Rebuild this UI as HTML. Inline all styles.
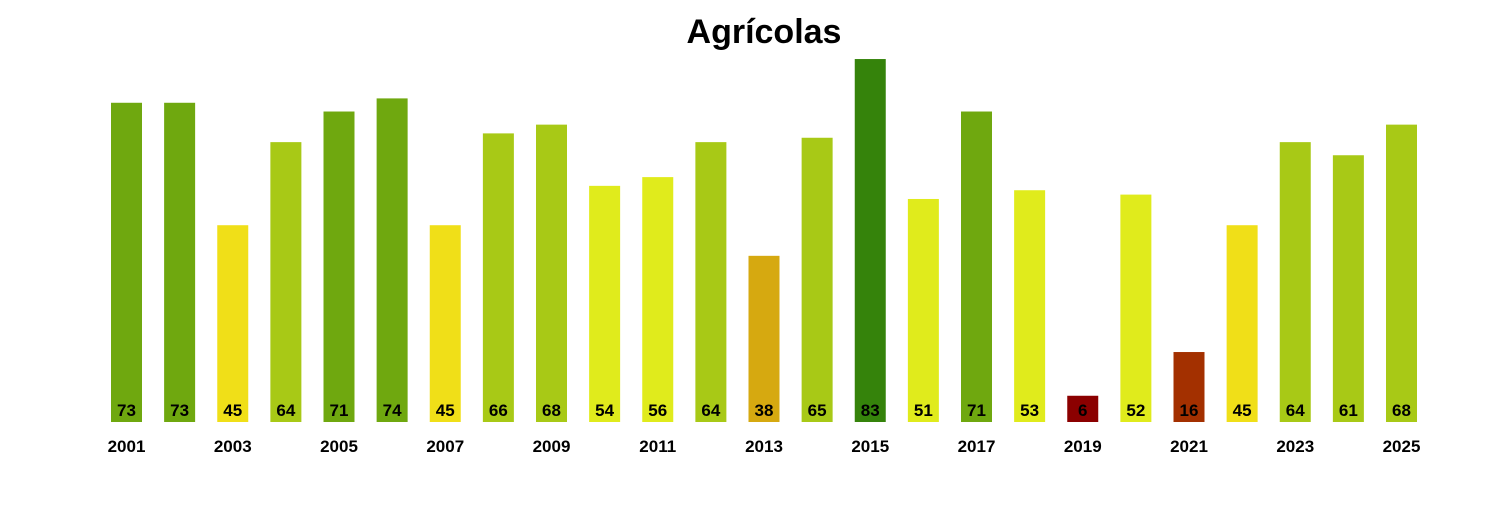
<!DOCTYPE html>
<html><head><meta charset="utf-8"><style>
body{margin:0;background:#fff;}
svg text{font-family:"Liberation Sans",Arial,sans-serif;font-weight:bold;}
</style></head><body>
<svg width="1500" height="500" xmlns="http://www.w3.org/2000/svg">
<rect width="1500" height="500" fill="#fff"/>
<text x="764" y="43" font-size="34" text-anchor="middle">Agrícolas</text>
<g id="bars"></g>
</svg>
<script>
var v=[73,73,45,64,71,74,45,66,68,54,56,64,38,65,83,51,71,53,6,52,16,45,64,61,68];
function col(x){if(x>=80)return"#35830b";if(x>=70)return"#6fa80f";if(x>=60)return"#a8c916";if(x>=50)return"#e0eb1c";if(x>=40)return"#f0df18";if(x>=30)return"#d6a910";if(x>=10)return"#a33000";return"#8b0000";}
var g=document.getElementById("bars"),s="";
for(var i=0;i<v.length;i++){var x=111+i*53.125,h=v[i]*4.373,y=422-h;
s+='<rect x="'+x+'" y="'+y+'" width="31" height="'+h+'" fill="'+col(v[i])+'"/>';
s+='<text x="'+(x+15.5)+'" y="416" font-size="17" text-anchor="middle">'+v[i]+'</text>';
if(i%2==0)s+='<text x="'+(x+15.5)+'" y="452" font-size="17" text-anchor="middle">'+(2001+i)+'</text>';}
g.innerHTML=s;
</script>
</body></html>
